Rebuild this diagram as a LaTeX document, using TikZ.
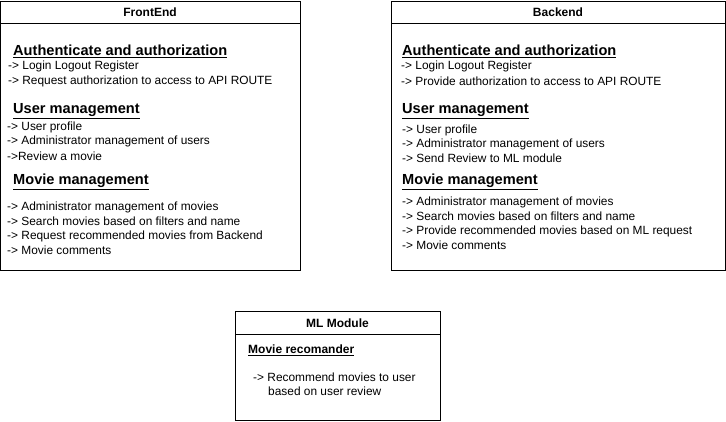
\documentclass[tikz,border=0pt]{standalone}
\usepackage{fontspec}
\setmainfont{Liberation Sans}
\begin{document}
\begin{tikzpicture}[x=1pt,y=-1pt,
  box/.style={draw=black,line width=1pt,fill=white},
  ttl/.style={font=\fontsize{12}{14}\selectfont\bfseries,inner sep=0pt},
  head/.style={font=\fontsize{14.6}{17}\selectfont\bfseries,anchor=west,inner sep=0pt,yshift=-1.5pt},
  subhead/.style={font=\fontsize{12}{14}\selectfont\bfseries,anchor=west,inner sep=0pt,yshift=-1pt},
  item/.style={font=\fontsize{11.9}{14}\selectfont,anchor=west,inner sep=0pt}]
\useasboundingbox (0,0) rectangle (726,421);
\fill[white] (0,0) rectangle (726,421);
% FrontEnd
\draw[box] (0.5,1) rectangle (300,270);
\draw[line width=1pt] (0.5,23) -- (300,23);
\node[ttl] (fet) at (150,12) {FrontEnd};
\node[head] (fa) at (13,50) {\underline{Authenticate and authorization}};
\node[item] (fa1) at (8,66) {-> Login Logout Register};
\node[item] (fa2) at (8,81) {-> Request authorization to access to API ROUTE};
\node[head] (fu) at (13,110) {\underline{User management}};
\node[item] (fu1) at (7,127) {-> User profile};
\node[item] (fu2) at (7,141) {-> Administrator management of users};
\node[item] (fu3) at (7,156) {->Review a movie};
\node[head] (fm) at (13,180) {\underline{Movie management}};
\node[item] (fm1) at (7,207) {-> Administrator management of movies};
\node[item] (fm2) at (7,221) {-> Search movies based on filters and name};
\node[item] (fm3) at (7,236) {-> Request recommended movies from Backend};
\node[item] (fm4) at (7,250) {-> Movie comments};
% Backend
\draw[box] (391,1) rectangle (725.5,270);
\draw[line width=1pt] (391,23) -- (725.5,23);
\node[ttl] (bet) at (558,12) {Backend};
\node[head] (ba) at (402,50) {\underline{Authenticate and authorization}};
\node[item] (ba1) at (401,66) {-> Login Logout Register};
\node[item] (ba2) at (401,81) {-> Provide authorization to access to API ROUTE};
\node[head] (bu) at (402,110) {\underline{User management}};
\node[item] (bu1) at (402,130) {-> User profile};
\node[item] (bu2) at (402,144) {-> Administrator management of users};
\node[item] (bu3) at (402,158) {-> Send Review to ML module};
\node[head] (bm) at (402,180) {\underline{Movie management}};
\node[item] (bm1) at (402,202) {-> Administrator management of movies};
\node[item] (bm2) at (402,216) {-> Search movies based on filters and name};
\node[item] (bm3) at (402,231) {-> Provide recommended movies based on ML request};
\node[item] (bm4) at (402,245) {-> Movie comments};
% ML Module
\draw[box] (235,311) rectangle (440,420);
\draw[line width=1pt] (235,334) -- (440,334);
\node[ttl] (mlt) at (337.5,323) {ML Module};
\node[subhead] (mlh) at (248,349) {\underline{Movie recomander}};
\node[item] (ml1) at (253,377) {-> Recommend movies to user};
\node[item] (ml2) at (268,391) {based on user review};
\end{tikzpicture}
\end{document}
